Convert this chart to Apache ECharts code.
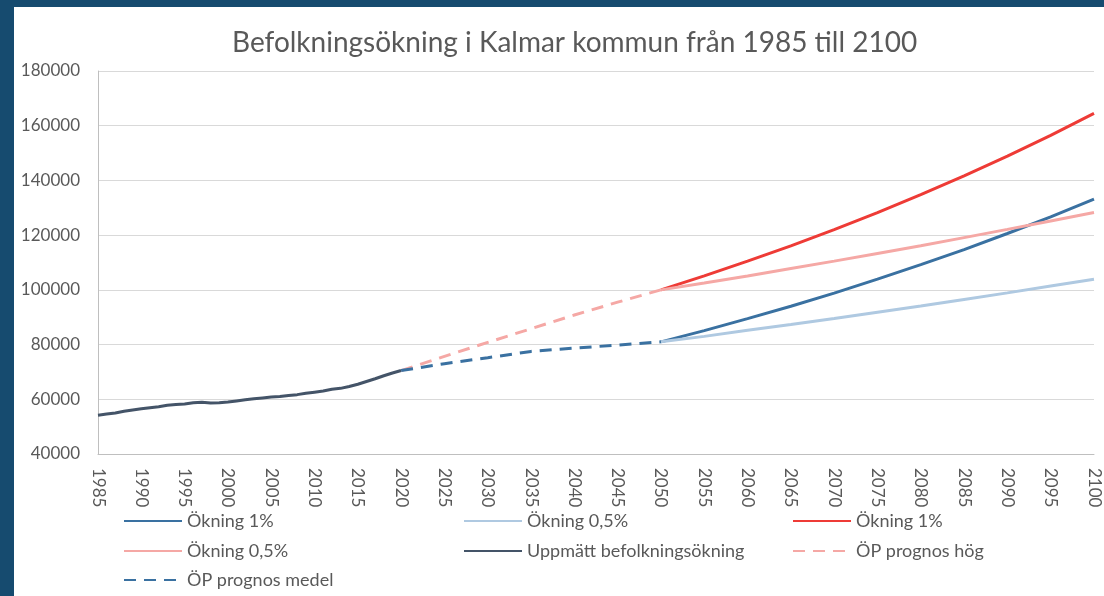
<!DOCTYPE html>
<html>
<head>
<meta charset="utf-8">
<script src="https://cdn.jsdelivr.net/npm/echarts@6/dist/echarts.min.js"></script>
<style>
  html, body { margin: 0; padding: 0; background: #164b6f; }
  #chart { position: absolute; left: 14px; top: 7px; width: 1090px; height: 589px; background: #fff; }
</style>
</head>
<body>
<div id="chart"></div>
<script>
// Measured population 1985-2020
const measuredYears = [1985, 1986, 1987, 1988, 1989, 1990, 1991, 1992, 1993, 1994, 1995, 1996,
  1997, 1998, 1999, 2000, 2001, 2002, 2003, 2004, 2005, 2006, 2007, 2008, 2009, 2010, 2011,
  2012, 2013, 2014, 2015, 2016, 2017, 2018, 2019, 2020]
const measured = [54200, 54600, 55000, 55600, 56100, 56500, 56900, 57300, 57800, 58100, 58300, 58700,
  58900, 58600, 58700, 59000, 59400, 59800, 60200, 60500, 60800, 61000, 61400, 61700, 62200, 62600, 63000,
  63700, 64000, 64700, 65500, 66500, 67500, 68600, 69600, 70500]

// ÖP forecasts 2020-2050
const prognosYears = [2020, 2025, 2030, 2035, 2040, 2045, 2050]
const prognosMedel = [70500, 73000, 75200, 77500, 78700, 79800, 81000]
const prognosHog = [70500, 75700, 80800, 85800, 90800, 95500, 100000]

// Growth scenarios 2050-2100
const growthYears = [2050, 2055, 2060, 2065, 2070, 2075, 2080, 2085, 2090, 2095, 2100]
const medel1 = [81000, 85100, 89500, 94000, 98800, 103900, 109200, 114700, 120600, 126700, 133200]
const medel05 = [81000, 83000, 85200, 87300, 89500, 91800, 94100, 96500, 98900, 101400, 103900]
const hog1 = [100000, 105100, 110500, 116100, 122000, 128200, 134800, 141700, 148900, 156500, 164500]
const hog05 = [100000, 102500, 105100, 107800, 110500, 113300, 116100, 119100, 122100, 125200, 128300]

const yTicks = { min: 40000, max: 180000, step: 20000 }
const xTicks = { min: 1985, max: 2100, step: 5 }

const pairs = (xs, ys) => xs.map((x, i) => [x, ys[i]])

const FONT = 'Lato'
const TEXT = '#595959'

const seriesDefs = [
  { name: 'Ökning 1% (medel)', x: growthYears, y: medel1, color: '#3a71a1', dash: 'solid' },
  { name: 'Ökning 0,5% (medel)', x: growthYears, y: medel05, color: '#afc9e1', dash: 'solid' },
  { name: 'Ökning 1% (hög)', x: growthYears, y: hog1, color: '#ee3b36', dash: 'solid' },
  { name: 'Ökning 0,5% (hög)', x: growthYears, y: hog05, color: '#f5a8a5', dash: 'solid' },
  { name: 'Uppmätt befolkningsökning', x: measuredYears, y: measured, color: '#445468', dash: 'solid' },
  { name: 'ÖP prognos hög', x: prognosYears, y: prognosHog, color: '#f5a8a5', dash: [12, 8] },
  { name: 'ÖP prognos medel', x: prognosYears, y: prognosMedel, color: '#3a71a1', dash: [12, 8] },
]

// legend slots: [left, top] in chart coords
const legendSlots = [
  [109, 504], [449, 504], [778, 504],
  [109, 534], [449, 534], [778, 534],
  [109, 563],
]

const chart = echarts.init(document.getElementById('chart'))

const option = {
  animation: false,
  title: {
    text: 'Befolkningsökning i Kalmar kommun från 1985 till 2100',
    left: 218,
    top: 20,
    padding: 0,
    textStyle: { fontFamily: FONT, fontSize: 28, fontWeight: 'normal', color: TEXT, lineHeight: 32 },
  },
  legend: seriesDefs.map((s, i) => ({
    data: [s.name],
    left: legendSlots[i][0],
    top: legendSlots[i][1],
    padding: 0,
    itemWidth: 58,
    itemHeight: 14,
    itemStyle: { opacity: 0 },
    formatter: (name) => name.replace(/ \((medel|hög)\)$/, ''),
    textStyle: { fontFamily: FONT, fontSize: 18, color: TEXT, lineHeight: 20 },
  })),
  grid: { left: 84, right: 10, top: 64, bottom: 142 },
  xAxis: {
    type: 'value',
    min: xTicks.min,
    max: xTicks.max,
    interval: xTicks.step,
    axisLine: { lineStyle: { color: '#bfbfbf', width: 1 } },
    axisTick: { show: false },
    splitLine: { show: false },
    axisLabel: {
      rotate: -90,
      margin: 14,
      fontFamily: FONT,
      fontSize: 17,
      color: TEXT,
      formatter: (v) => String(v),
    },
  },
  yAxis: {
    type: 'value',
    min: yTicks.min,
    max: yTicks.max,
    interval: yTicks.step,
    axisLine: { show: true, lineStyle: { color: '#bfbfbf', width: 1 } },
    axisTick: { show: false },
    splitLine: { lineStyle: { color: '#d9d9d9', width: 1 } },
    axisLabel: {
      margin: 18,
      fontFamily: FONT,
      fontSize: 17,
      color: TEXT,
      formatter: (v) => String(v),
    },
  },
  series: seriesDefs.map((s) => ({
    name: s.name,
    type: 'line',
    symbol: 'none',
    data: pairs(s.x, s.y),
    itemStyle: { color: s.color },
    lineStyle: { color: s.color, width: 3, type: s.dash, cap: 'butt' },
  })),
}

chart.setOption(option)
</script>
</body>
</html>
